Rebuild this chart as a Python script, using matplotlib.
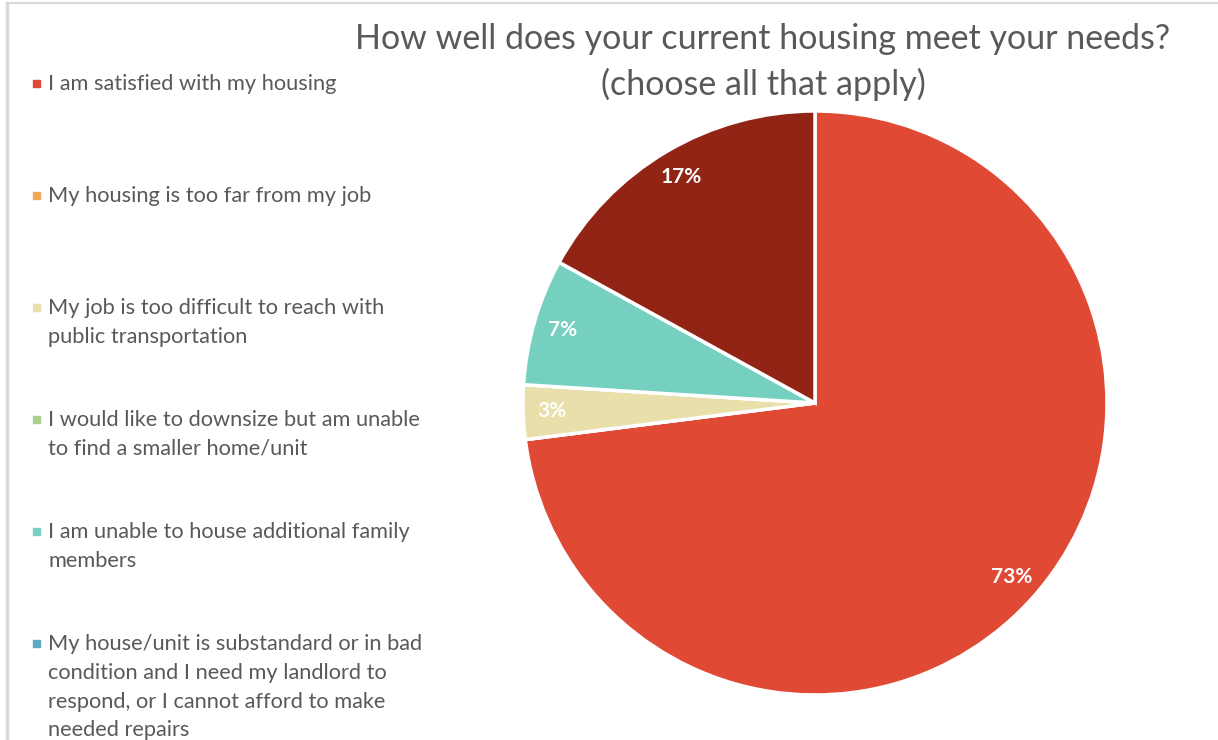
import matplotlib
matplotlib.use('Agg')
import matplotlib.pyplot as plt
from matplotlib.patches import Rectangle
from matplotlib.lines import Line2D

plt.rcParams['font.family'] = ['Lato', 'DejaVu Sans']

# data
categories = [
    "I am satisfied with my housing",
    "My housing is too far from my job",
    "My job is too difficult to reach with\npublic transportation",
    "I would like to downsize but am unable\nto find a smaller home/unit",
    "I am unable to house additional family\nmembers",
    "My house/unit is substandard or in bad\ncondition and I need my landlord to\nrespond, or I cannot afford to make\nneeded repairs",
    "Other",
]
shares = [73, 0, 3, 0, 7, 0, 17]
colors = ['#E04A35', '#F2A65A', '#E8DFAA', '#A9D18E', '#76D0BF', '#5FA9C0', '#922416']

W, H = 1218, 740
fig = plt.figure(figsize=(W / 100, H / 100), dpi=100)

# thin frame lines of the original screenshot
fig.add_artist(Line2D([7 / W, 7 / W], [0, 1 - 3 / H], color='#D9D9D9', lw=2.5))
fig.add_artist(Line2D([7 / W, 1], [1 - 3 / H, 1 - 3 / H], color='#D9D9D9', lw=1.5))

# pie: centre (815, 403), radius 292 px
cx, cy, r = 815, 403, 292
ax = fig.add_axes([(cx - r) / W, (H - cy - r) / H, 2 * r / W, 2 * r / H])
ax.pie(shares, colors=colors, startangle=90, counterclock=False, radius=1,
       wedgeprops=dict(edgecolor='white', linewidth=2.5),
       autopct=lambda p: '%d%%' % round(p) if p > 0.5 else '',
       pctdistance=0.9,
       textprops=dict(color='white', fontsize=15, fontweight='bold'))
ax.set_xlim(-1, 1)
ax.set_ylim(-1, 1)
ax.set_aspect('equal')
ax.axis('off')

fig.text(763 / W, 1 - 39 / H, "How well does your current housing meet your needs?",
         ha='center', va='center', fontsize=24.5, color='#595959')
fig.text(763 / W, 1 - 84 / H, "(choose all that apply)",
         ha='center', va='center', fontsize=24.5, color='#595959')

# legend drawn by hand, one item every 112 px
for i, (lab, col) in enumerate(zip(categories, colors)):
    y = 83 + 112 * i
    if y > H:
        break
    fig.add_artist(Rectangle((33 / W, 1 - (y + 4) / H), 7 / W, 7 / H,
                             color=col, transform=fig.transFigure))
    fig.text(48 / W, 1 - (y - 9) / H, lab, ha='left', va='top',
             fontsize=15.7, color='#595959', linespacing=1.55)

fig.savefig('out.png', dpi=100)
